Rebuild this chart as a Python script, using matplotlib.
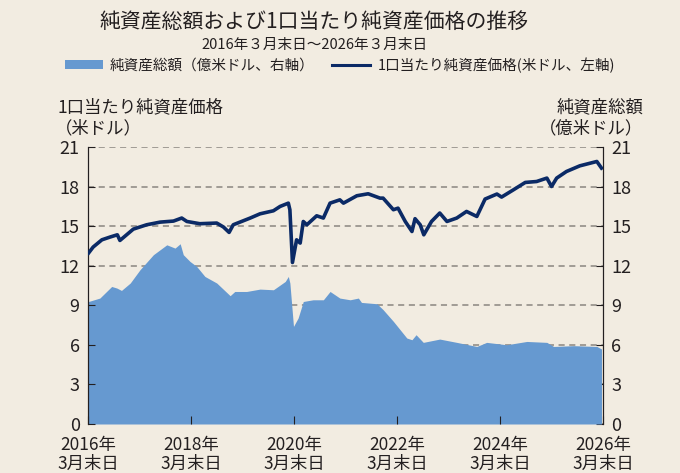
import matplotlib.pyplot as plt
from matplotlib.patches import Patch
from matplotlib.lines import Line2D

plt.rcParams['font.family'] = ['Noto Sans CJK JP', 'DejaVu Sans']

# 1口当たり純資産価格 (米ドル, 左軸) - decimal year, value
price_t = [2016.26, 2016.35, 2016.52, 2016.68, 2016.82, 2016.87, 2017.13, 2017.39,
           2017.65, 2017.91, 2018.07, 2018.17, 2018.42, 2018.75, 2018.88, 2018.99,
           2019.07, 2019.40, 2019.59, 2019.85, 2019.98, 2020.14, 2020.17, 2020.22,
           2020.30, 2020.37, 2020.43, 2020.50, 2020.69, 2020.82, 2020.95, 2021.14,
           2021.21, 2021.47, 2021.69, 2021.92, 2021.98, 2022.18, 2022.27, 2022.41,
           2022.54, 2022.60, 2022.70, 2022.77, 2022.92, 2023.08, 2023.22, 2023.41,
           2023.60, 2023.80, 2023.96, 2024.19, 2024.28, 2024.51, 2024.74, 2024.96,
           2025.16, 2025.25, 2025.35, 2025.54, 2025.80, 2026.13, 2026.22]
price_v = [12.96, 13.42, 13.97, 14.18, 14.35, 13.92, 14.78, 15.11,
           15.31, 15.39, 15.62, 15.36, 15.19, 15.24, 14.94, 14.53,
           15.11, 15.62, 15.94, 16.17, 16.50, 16.75, 16.25, 12.25,
           13.97, 13.72, 15.36, 15.11, 15.79, 15.62, 16.75, 17.00,
           16.75, 17.31, 17.46, 17.13, 17.13, 16.25, 16.37, 15.36,
           14.60, 15.57, 15.11, 14.35, 15.36, 16.00, 15.36, 15.62,
           16.12, 15.74, 17.06, 17.44, 17.21, 17.76, 18.32, 18.39,
           18.65, 18.01, 18.65, 19.15, 19.58, 19.91, 19.41]

# 純資産総額 (億米ドル, 右軸)
nav_t = [2016.26, 2016.48, 2016.71, 2016.81, 2016.90, 2017.07, 2017.26, 2017.52,
         2017.78, 2017.94, 2018.04, 2018.10, 2018.23, 2018.36, 2018.52, 2018.75,
         2019.01, 2019.10, 2019.33, 2019.59, 2019.85, 2020.08, 2020.14, 2020.17,
         2020.24, 2020.33, 2020.43, 2020.62, 2020.82, 2020.95, 2021.14, 2021.34,
         2021.50, 2021.56, 2021.86, 2021.98, 2022.18, 2022.44, 2022.54, 2022.62,
         2022.76, 2023.08, 2023.41, 2023.80, 2023.99, 2024.38, 2024.77, 2025.16,
         2025.29, 2025.68, 2026.13, 2026.22]
nav_v = [9.29, 9.55, 10.43, 10.31, 10.13, 10.69, 11.70, 12.84,
         13.59, 13.34, 13.67, 12.84, 12.33, 11.95, 11.19, 10.69,
         9.73, 10.05, 10.05, 10.23, 10.18, 10.81, 11.19, 10.69,
         7.40, 8.04, 9.29, 9.42, 9.42, 10.05, 9.55, 9.42,
         9.55, 9.22, 9.12, 8.67, 7.78, 6.52, 6.39, 6.77,
         6.19, 6.44, 6.19, 5.88, 6.19, 6.01, 6.26, 6.19,
         5.88, 5.94, 5.88, 5.69]

xticks = [2016.25, 2018.25, 2020.25, 2022.25, 2024.25, 2026.25]
xlabels = ['2016年\n3月末日', '2018年\n3月末日', '2020年\n3月末日',
           '2022年\n3月末日', '2024年\n3月末日', '2026年\n3月末日']
yticks = [0, 3, 6, 9, 12, 15, 18, 21]

bg = '#F2ECE1'
area_c = '#6699D0'
line_c = '#0B2A66'
txt_c = '#231F20'

fig = plt.figure(figsize=(6.8, 4.73), dpi=100, facecolor=bg)
ax = fig.add_axes([0.1294, 0.1036, 0.7574, 0.5854])
ax2 = ax.twinx()

ax2.set_facecolor(bg)
ax2.fill_between(nav_t, nav_v, 0, color=area_c, lw=0, zorder=2)
ax2.set_axisbelow(True)
ax2.grid(axis='y', ls=(0, (4, 3)), color='#8A8580', lw=1.1, zorder=0)

ax.set_zorder(ax2.get_zorder() + 1)
ax.patch.set_visible(False)
ax.plot(price_t, price_v, color=line_c, lw=2.6, zorder=3)

for a in (ax, ax2):
    a.set_xlim(2016.25, 2026.25)
    a.set_ylim(0, 21)
    a.set_yticks(yticks)
    a.spines['top'].set_visible(False)
    a.spines['bottom'].set_visible(False)
    a.spines['left'].set_color(txt_c)
    a.spines['right'].set_color(txt_c)
ax.set_xticks(xticks)
ax.set_xticklabels(xlabels, fontsize=12.5, color=txt_c, linespacing=1.05)
ax.tick_params(axis='x', direction='in', length=6, color=txt_c, pad=9)
ax.tick_params(axis='y', direction='in', length=5, color=txt_c, labelsize=13,
               labelcolor=txt_c, pad=6)
ax2.tick_params(axis='y', direction='in', length=5, color=txt_c, labelsize=13,
                labelcolor=txt_c, pad=6)

fig.text(0.462, 0.953, '純資産総額および1口当たり純資産価格の推移', fontsize=15,
         ha='center', va='center', color=txt_c)
fig.text(0.462, 0.905, '2016年３月末日～2026年３月末日', fontsize=10.5,
         ha='center', va='center', color=txt_c)

handles = [Patch(facecolor=area_c, edgecolor='none'),
           Line2D([], [], color=line_c, lw=2.2)]
fig.legend(handles, ['純資産総額（億米ドル、右軸）', '1口当たり純資産価格(米ドル、左軸)'],
           loc='center', bbox_to_anchor=(0.5, 0.862), ncol=2, frameon=False,
           fontsize=10.5, handlelength=2.6, handleheight=0.6, columnspacing=1.2,
           handletextpad=0.5, labelcolor=txt_c)

fig.text(0.084, 0.774, '1口当たり純資産価格', fontsize=12.5, ha='left', va='center', color=txt_c)
fig.text(0.080, 0.729, '（米ドル）', fontsize=12.5, ha='left', va='center', color=txt_c)
fig.text(0.946, 0.774, '純資産総額', fontsize=12.5, ha='right', va='center', color=txt_c)
fig.text(0.946, 0.729, '（億米ドル）', fontsize=12.5, ha='right', va='center', color=txt_c)

fig.savefig('out.png', dpi=100, facecolor=bg)
